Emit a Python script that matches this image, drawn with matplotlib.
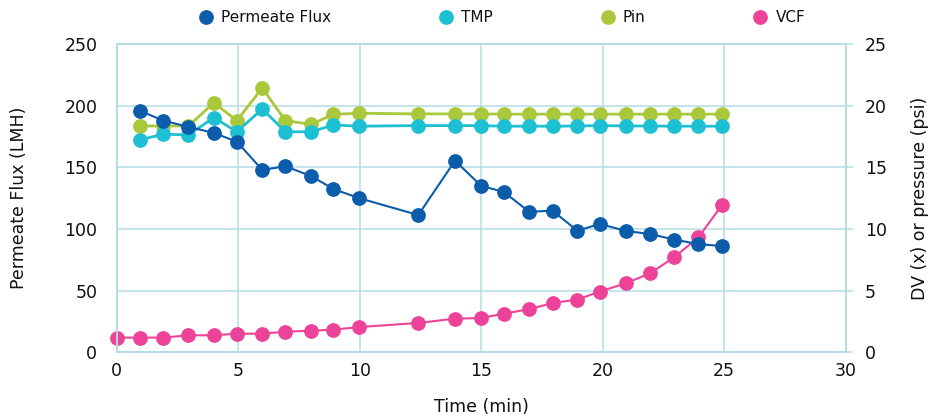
import matplotlib.pyplot as plt
from matplotlib.lines import Line2D

# time points (min)
t_vcf = [0, 0.96, 1.92, 2.95, 4.0, 4.94, 5.99, 6.94, 8.0, 8.92, 9.99,
         12.41, 13.92, 14.99, 15.94, 16.97, 17.94, 18.96, 19.88, 20.95,
         21.95, 22.94, 23.94, 24.92]
t = t_vcf[1:]

flux = [196, 188, 183, 178, 171, 148, 151, 143, 132.5, 125, 111.4, 155.5,
        135.2, 130, 114.1, 114.9, 98.6, 104.2, 98.5, 96, 91.5, 87.8, 86.2]
tmp = [17.25, 17.7, 17.65, 19.05, 17.9, 19.75, 17.9, 17.9, 18.45, 18.35,
       18.4, 18.4, 18.4, 18.35, 18.35, 18.35, 18.37, 18.4, 18.37, 18.37,
       18.35, 18.35, 18.35]
pin = [18.37, 18.37, 18.37, 20.26, 18.8, 21.45, 18.8, 18.5, 19.32, 19.4,
       19.35, 19.35, 19.35, 19.33, 19.33, 19.33, 19.33, 19.33, 19.33, 19.33,
       19.33, 19.33, 19.33]
vcf = [1.19, 1.19, 1.19, 1.38, 1.38, 1.51, 1.51, 1.67, 1.75, 1.84, 2.05,
       2.38, 2.73, 2.78, 3.14, 3.49, 4.0, 4.28, 4.93, 5.6, 6.41, 7.71,
       9.33, 11.98]

c_flux = '#0b5cab'
c_tmp = '#1cc0d2'
c_pin = '#a9c83c'
c_vcf = '#ec4399'
c_grid = '#b5dce5'
c_text = '#111111'

fig = plt.figure(figsize=(9.31, 4.17), dpi=100)
ax2 = fig.add_axes([0.1254, 0.1552, 0.9084 - 0.1254, 0.8938 - 0.1552])
ax1 = ax2.twinx()
# flux axis sits on the left, on top of everything else
ax1.yaxis.tick_left()
ax1.yaxis.set_label_position('left')
ax2.yaxis.tick_right()
ax2.yaxis.set_label_position('right')
ax1.set_zorder(2)
ax2.set_zorder(1)
ax1.patch.set_visible(False)

ms = 9.6
ax2.plot(t, pin, color=c_pin, lw=2, marker='o', ms=ms)
ax2.plot(t, tmp, color=c_tmp, lw=2, marker='o', ms=ms)
ax2.plot(t_vcf, vcf, color=c_vcf, lw=1.5, marker='o', ms=ms, clip_on=False)
ax1.plot(t, flux, color=c_flux, lw=1.5, marker='o', ms=ms)

ax2.set_xlim(0, 30)
ax2.set_ylim(0, 25)
ax1.set_ylim(0, 250)
ax2.set_xticks(range(0, 31, 5))
ax2.set_yticks(range(0, 26, 5))
ax1.set_yticks(range(0, 251, 50))

ax2.grid(True, color=c_grid, lw=1.1)
ax2.set_axisbelow(True)
for sp in ax2.spines.values():
    sp.set_color(c_grid)
    sp.set_linewidth(1.4)
for sp in ax1.spines.values():
    sp.set_visible(False)

fs = 12.5
ax2.tick_params(axis='y', right=True, left=False, length=5, width=1.1,
                color=c_grid, pad=9, labelsize=fs, labelcolor=c_text)
ax2.tick_params(axis='x', length=0, pad=7, labelsize=fs, labelcolor=c_text)
ax1.tick_params(axis='y', left=True, right=False, length=0, pad=14,
                labelsize=fs, labelcolor=c_text)

ax1.set_ylabel('Permeate Flux (LMH)', fontsize=fs, labelpad=26, color=c_text)
ax2.set_ylabel('DV (x) or pressure (psi)', fontsize=fs, labelpad=17,
               color=c_text)
ax2.set_xlabel('Time (min)', fontsize=fs, labelpad=13, color=c_text)

handles = [Line2D([], [], ls='none', marker='o', ms=ms, color=c)
           for c in (c_flux, c_tmp, c_pin, c_vcf)]
labels = ['Permeate Flux', 'TMP', 'Pin', 'VCF']
fig.legend(handles, labels, ncol=4, loc='center',
           bbox_to_anchor=(0.539, 1 - 18 / 417), frameon=False, fontsize=11,
           labelcolor=c_text, handlelength=1, handletextpad=0.5,
           columnspacing=7.0)

fig.savefig('out.png', dpi=100)
